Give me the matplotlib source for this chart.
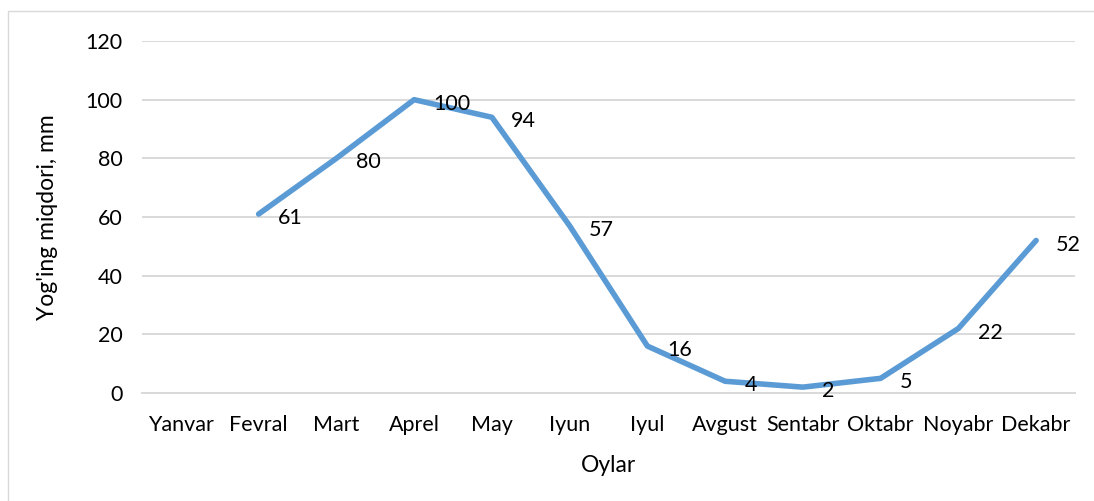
import matplotlib.pyplot as plt
from matplotlib.patches import Rectangle
import numpy as np

months = ['Yanvar', 'Fevral', 'Mart', 'Aprel', 'May', 'Iyun', 'Iyul',
          'Avgust', 'Sentabr', 'Oktabr', 'Noyabr', 'Dekabr']
# Yanvar has no value in the original chart
rain = [np.nan, 61, 80, 100, 94, 57, 16, 4, 2, 5, 22, 52]
yticks = [0, 20, 40, 60, 80, 100, 120]

plt.rcParams['font.family'] = ['Lato', 'DejaVu Sans']

fig = plt.figure(figsize=(10.94, 5.01), dpi=100)
ax = fig.add_axes([142 / 1094, 1 - 393 / 501, (1075 - 142) / 1094, (393 - 41) / 501])

x = np.arange(len(months))
ax.plot(x, rain, color='#5b9bd5', linewidth=4.0, solid_capstyle='round',
        solid_joinstyle='round', zorder=3)

for xi, v in zip(x, rain):
    if np.isnan(v):
        continue
    ax.annotate(str(int(v)), (xi, v), xytext=(14, -3), textcoords='offset points',
                ha='left', va='center', fontsize=15.5, color='black', zorder=4)

ax.set_xlim(-0.5, len(months) - 0.5)
ax.set_ylim(0, 120)
ax.set_xticks(x)
ax.set_xticklabels(months, fontsize=15.5)
ax.set_yticks(yticks)
ax.set_yticklabels([str(t) for t in yticks], fontsize=15.5)
ax.tick_params(axis='x', length=0, pad=16)
ax.tick_params(axis='y', length=0, pad=14)

# gridlines
ax.grid(axis='y', color='#d9d9d9', linewidth=1.4, zorder=0)
for s in ['top', 'right', 'left']:
    ax.spines[s].set_visible(False)
ax.spines['bottom'].set_color('#d9d9d9')
ax.spines['bottom'].set_linewidth(1.4)
ax.set_axisbelow(True)

ax.set_xlabel('Oylar', fontsize=16.5, labelpad=14)
ax.set_ylabel("Yog'ing miqdori, mm", fontsize=16.5, labelpad=20)

# chart area border
fig.patches.append(Rectangle((8 / 1094, -0.1), 1.2, 1 - 11 / 501 + 0.1,
                             transform=fig.transFigure, fill=False,
                             edgecolor='#d9d9d9', linewidth=1.0))

fig.savefig('out.png', dpi=100)
